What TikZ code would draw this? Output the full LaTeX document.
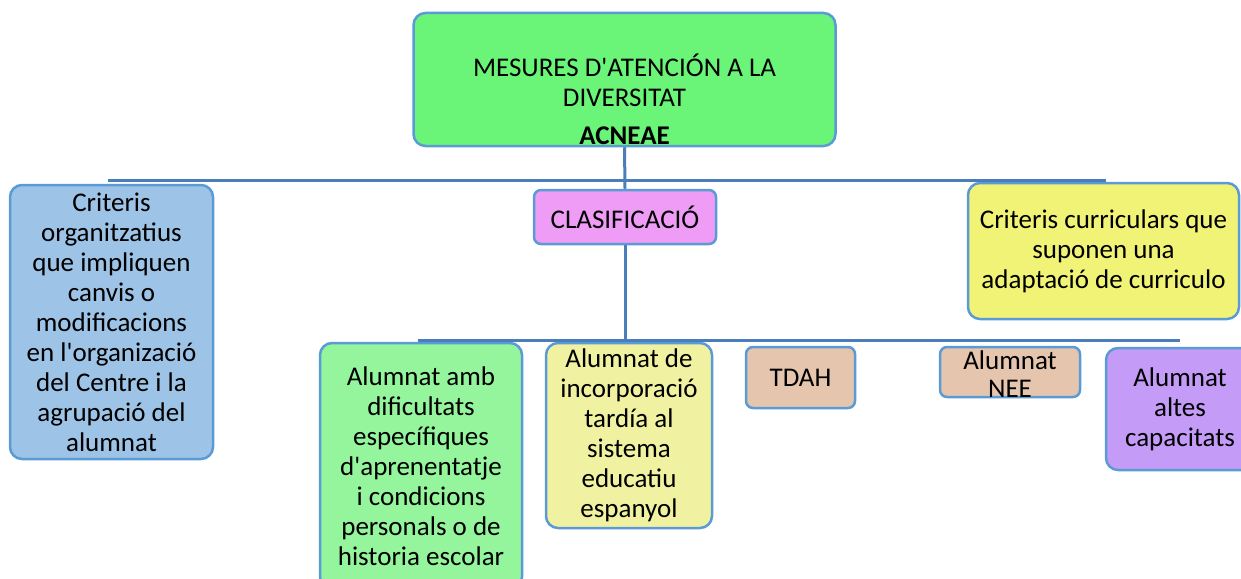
\documentclass[tikz,border=0pt]{standalone}
\usepackage{fontspec}
\setmainfont{Carlito}
\usepackage{tikz}
\definecolor{edgeblue}{HTML}{5B9BD5}
\definecolor{lineblue}{HTML}{4A7EBB}
\tikzset{box/.style={draw=edgeblue, line width=2.5pt, rounded corners=12pt,
           inner sep=0pt, align=center, font=\fontsize{27}{30}\selectfont},
         smallbox/.style={box, rounded corners=7pt},
         conn/.style={lineblue, line width=3pt}}

\begin{document}
\begin{tikzpicture}[x=1pt,y=-1pt]
    \useasboundingbox (0,0) rectangle (1241,578);
    \clip (0,0) rectangle (1241,578);
    \node[box, fill={rgb,255:red,106;green,245;blue,120}, minimum width=422pt, minimum height=133pt,
      label={[font=\fontsize{27}{30}\selectfont, align=center, yshift=-20pt]center:{MESURES D\textquotesingle ATENCIÓN A LA\\ DIVERSITAT\\[8pt] \textbf{ACNEAE}}}]
      (top) at (624.5,79.5) {};
    \node[smallbox, fill={rgb,255:red,238;green,156;blue,246}, minimum width=182pt, minimum height=54pt]
      (clasif) at (625,217) {CLASIFICACIÓ};
    \node[box, fill={rgb,255:red,157;green,195;blue,230}, minimum width=203pt, minimum height=274pt]
      (critorg) at (111.5,322) {Criteris\\ organitzatius\\ que impliquen\\ canvis o\\ modificacions\\ en l\textquotesingle organizació\\ del Centre i la\\ agrupació del\\ alumnat};
    \node[box, fill={rgb,255:red,240;green,243;blue,117}, minimum width=271pt, minimum height=136pt]
      (critcurr) at (1103.5,251) {Criteris curriculars que\\ suponen una\\ adaptació de curriculo};
    %bottom row
    \node[box, fill={rgb,255:red,148;green,245;blue,156}, minimum width=202pt, minimum height=246pt]
      (dificult) at (421,466) {Alumnat amb\\ dificultats\\ específiques\\ d\textquotesingle aprenentatje\\ i condicions\\ personals o de\\ historia escolar};
    \node[box, fill={rgb,255:red,240;green,242;blue,162}, minimum width=166pt, minimum height=185pt]
      (incorp) at (629,435.5) {Alumnat de\\ incorporació\\ tardía al\\ sistema\\ educatiu\\ espanyol};
    \node[smallbox, fill={rgb,255:red,230;green,197;blue,174}, minimum width=109pt, minimum height=61pt]
      (tdah) at (800.5,377.5) {TDAH};
    \node[smallbox, fill={rgb,255:red,230;green,197;blue,174}, minimum width=140pt, minimum height=50pt,
      label={[font=\fontsize{27}{28}\selectfont, align=center, yshift=-2pt]center:{Alumnat\\ NEE}}]
      (nee) at (1010,372) {};
    \node[box, fill={rgb,255:red,196;green,155;blue,247}, minimum width=148pt, minimum height=122pt]
      (altes) at (1180,409) {Alumnat\\ altes\\ capacitats};
    % connectors
    \coordinate (barA) at (108,180);
    \coordinate (barB) at (1106,180);
    \coordinate (barC) at (418,340);
    \coordinate (barD) at (1180,340);
    \draw[conn] (top.south) -- (clasif.north);
    \draw[conn] (barA) -- (barB);
    \draw[conn] (clasif.south) -- (clasif.south |- barC);
    \draw[conn] (barC) -- (barD);
  \end{tikzpicture}
\end{document}
